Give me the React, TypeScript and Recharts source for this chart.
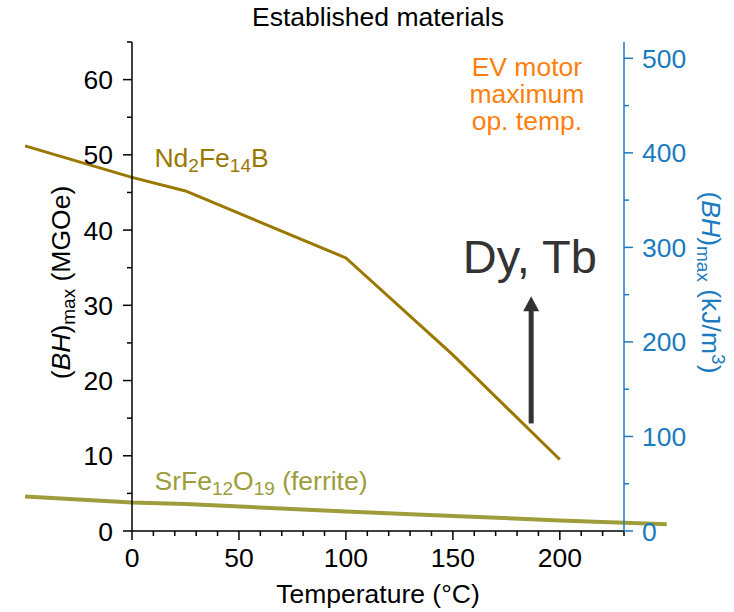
import React from 'react';
import { ComposedChart, Line, XAxis, YAxis, ReferenceLine, ReferenceDot } from 'recharts';

const ndTemps = [-50, 0, 25, 100, 150, 200];
const ndValues = [51.2, 47.0, 45.2, 36.3, 23.4, 9.5];
const ferriteTemps = [-50, 0, 25, 100, 150, 200, 250];
const ferriteValues = [4.6, 3.8, 3.6, 2.6, 2.0, 1.4, 0.9];

const xTicks = [0, 10, 20, 30, 40, 50, 60, 70, 80, 90, 100, 110, 120, 130, 140, 150, 160, 170, 180, 190, 200, 210, 220, 230];
const leftTicks = [0, 5, 10, 15, 20, 25, 30, 35, 40, 45, 50, 55, 60, 65];
const rightTicks = [0, 50, 100, 150, 200, 250, 300, 350, 400, 450, 500];

const MGOE_TO_KJ = 7.9577;
const Y_MAX = 65;
const X_MAX = 230;

const arrowX = 186.6;
const arrowFrom = 14.3;
const arrowTo = 31.2;

const ndData = ndTemps.map((t, i) => ({ t, v: ndValues[i] }));
const ferriteData = ferriteTemps.map((t, i) => ({ t, v: ferriteValues[i] }));

const FONT = '"Liberation Sans", Arial, Helvetica, sans-serif';
const FS = 26.5;
const SUB = 19;
const BLUE = '#1b7bc0';
const ND_COLOR = '#9a7800';
const FERRITE_COLOR = '#9e9d3c';
const ORANGE = '#ff7f0e';
const DARK = '#333333';

const isMajor = (v: number, every: number) => Math.abs(v / every - Math.round(v / every)) < 1e-6;

const LeftTick = (props: any) => {
  const { x, y, payload } = props;
  const major = isMajor(payload.value, 10);
  const len = major ? 9 : 5;
  return (
    <g>
      <line x1={x - len} y1={y} x2={x} y2={y} stroke="#000" strokeWidth={1.5} />
      {major && (
        <text x={x - 19} y={y + 9.5} textAnchor="end" fontSize={FS} fontFamily={FONT} fill="#000">
          {payload.value}
        </text>
      )}
    </g>
  );
};

const RightTick = (props: any) => {
  const { x, y, payload } = props;
  const major = isMajor(payload.value, 100);
  const len = major ? 9 : 5;
  return (
    <g>
      <line x1={x} y1={y} x2={x + len} y2={y} stroke={BLUE} strokeWidth={1.5} />
      {major && (
        <text x={x + 18} y={y + 9.5} textAnchor="start" fontSize={FS} fontFamily={FONT} fill={BLUE}>
          {payload.value}
        </text>
      )}
    </g>
  );
};

const BottomTick = (props: any) => {
  const { x, y, payload } = props;
  const major = isMajor(payload.value, 50);
  const len = major ? 9 : 5;
  return (
    <g>
      <line x1={x} y1={y} x2={x} y2={y + len} stroke="#000" strokeWidth={1.5} />
      {major && (
        <text x={x} y={y + 36} textAnchor="middle" fontSize={FS} fontFamily={FONT} fill="#000">
          {payload.value}
        </text>
      )}
    </g>
  );
};

const XLabel = (props: any) => {
  const vb = props.viewBox || {};
  return (
    <text x={vb.x + vb.width / 2} y={vb.y + 72} textAnchor="middle" fontSize={FS} fontFamily={FONT} fill="#000">
      Temperature (°C)
    </text>
  );
};

const LeftLabel = (props: any) => {
  const vb = props.viewBox || {};
  const cx = 70;
  const cy = vb.y + vb.height / 2 - 4;
  return (
    <text x={cx} y={cy} transform={`rotate(-90 ${cx} ${cy})`} textAnchor="middle" fontSize={FS} fontFamily={FONT} fill="#000">
      <tspan>(</tspan>
      <tspan fontStyle="italic">BH</tspan>
      <tspan>)</tspan>
      <tspan fontSize={SUB} dy={5}>max</tspan>
      <tspan dy={-5}> (MGOe)</tspan>
    </text>
  );
};

const RightLabel = (props: any) => {
  const vb = props.viewBox || {};
  const cx = 702;
  const cy = vb.y + vb.height / 2 - 4;
  return (
    <text x={cx} y={cy} transform={`rotate(90 ${cx} ${cy})`} textAnchor="middle" fontSize={FS} fontFamily={FONT} fill={BLUE}>
      <tspan>(</tspan>
      <tspan fontStyle="italic">BH</tspan>
      <tspan>)</tspan>
      <tspan fontSize={SUB} dy={5}>max</tspan>
      <tspan dy={-5}> (kJ/m</tspan>
      <tspan fontSize={SUB} dy={-10}>3</tspan>
      <tspan dy={10}>)</tspan>
    </text>
  );
};

const ArrowShape = (props: any) => {
  const { x1, y1, x2, y2 } = props;
  const head = 15;
  return (
    <g>
      <line x1={x1} y1={y1} x2={x2} y2={y2 + head - 2} stroke={DARK} strokeWidth={5} />
      <polygon points={`${x2},${y2} ${x2 - 8},${y2 + head} ${x2 + 8},${y2 + head}`} fill={DARK} />
    </g>
  );
};

const TextShape = (lines: string[], color: string, size: number, anchor: string, gap: number, dyOffset = 0) => (props: any) => {
  const { cx, cy } = props;
  return (
    <text x={cx} y={cy + dyOffset} textAnchor={anchor} fontSize={size} fontFamily={FONT} fill={color}>
      {lines.map((l, i) => (
        <tspan key={i} x={cx} dy={i === 0 ? 0 : gap}>
          {l}
        </tspan>
      ))}
    </text>
  );
};

const NdLabel = (props: any) => (
  <text x={props.cx} y={props.cy} fontSize={FS} fontFamily={FONT} fill={ND_COLOR}>
    <tspan>Nd</tspan>
    <tspan fontSize={SUB} dy={5}>2</tspan>
    <tspan dy={-5}>Fe</tspan>
    <tspan fontSize={SUB} dy={5}>14</tspan>
    <tspan dy={-5}>B</tspan>
  </text>
);

const FerriteLabel = (props: any) => (
  <text x={props.cx} y={props.cy} fontSize={FS} fontFamily={FONT} fill={FERRITE_COLOR}>
    <tspan>SrFe</tspan>
    <tspan fontSize={SUB} dy={5}>12</tspan>
    <tspan dy={-5}>O</tspan>
    <tspan fontSize={SUB} dy={5}>19</tspan>
    <tspan dy={-5}> (ferrite)</tspan>
  </text>
);

export default function App() {
  return (
    <div style={{ position: 'absolute', left: 0, top: 0, width: 734, height: 612, background: '#fff' }}>
      <style>{`.recharts-line, .recharts-line * { clip-path: none !important; } .recharts-reference-line, .recharts-reference-line * , .recharts-reference-dot, .recharts-reference-dot * { clip-path: none !important; }`}</style>
      <ComposedChart width={734} height={612} margin={{ top: 42, right: 0, bottom: 0, left: 0 }}>
        <XAxis
          xAxisId="bottom"
          dataKey="t"
          type="number"
          domain={[0, X_MAX]}
          allowDataOverflow
          ticks={xTicks}
          interval={0}
          tickSize={0}
          tickMargin={0}
          tickLine={false}
          tick={<BottomTick />}
          axisLine={{ stroke: '#000', strokeWidth: 1.5 }}
          height={81}
          label={{ content: <XLabel /> }}
        />
        <XAxis
          xAxisId="top"
          orientation="top"
          type="number"
          domain={[0, X_MAX]}
          allowDataOverflow
          tick={false}
          tickLine={false}
          axisLine={{ stroke: '#000', strokeWidth: 1.5 }}
          height={0}
        />
        <YAxis
          yAxisId="left"
          type="number"
          domain={[0, Y_MAX]}
          allowDataOverflow
          ticks={leftTicks}
          interval={0}
          tickSize={0}
          tickMargin={0}
          tickLine={false}
          tick={<LeftTick />}
          axisLine={{ stroke: '#000', strokeWidth: 1.5 }}
          width={132}
          label={{ content: <LeftLabel /> }}
        />
        <YAxis
          yAxisId="right"
          orientation="right"
          type="number"
          domain={[0, Y_MAX * MGOE_TO_KJ]}
          allowDataOverflow
          ticks={rightTicks}
          interval={0}
          tickSize={0}
          tickMargin={0}
          tickLine={false}
          tick={<RightTick />}
          axisLine={{ stroke: BLUE, strokeWidth: 1.5 }}
          width={110}
          label={{ content: <RightLabel /> }}
        />
        <Line
          xAxisId="bottom"
          yAxisId="left"
          data={ferriteData}
          dataKey="v"
          type="linear"
          stroke={FERRITE_COLOR}
          strokeWidth={4}
          dot={false}
          activeDot={false}
          isAnimationActive={false}
        />
        <Line
          xAxisId="bottom"
          yAxisId="left"
          data={ndData}
          dataKey="v"
          type="linear"
          stroke={ND_COLOR}
          strokeWidth={3}
          dot={false}
          activeDot={false}
          isAnimationActive={false}
        />
        <ReferenceLine
          xAxisId="bottom"
          yAxisId="left"
          segment={[{ x: arrowX, y: arrowFrom }, { x: arrowX, y: arrowTo }]}
          ifOverflow="visible"
          shape={<ArrowShape />}
        />
        <ReferenceDot
          xAxisId="bottom"
          yAxisId="left"
          x={X_MAX / 2}
          y={Y_MAX}
          r={0}
          ifOverflow="visible"
          shape={TextShape(['Established materials'], '#000', FS, 'middle', 0, -16)}
        />
        <ReferenceDot xAxisId="bottom" yAxisId="left" x={10.5} y={48.4} r={0} ifOverflow="visible" shape={<NdLabel />} />
        <ReferenceDot xAxisId="bottom" yAxisId="left" x={10.5} y={5.45} r={0} ifOverflow="visible" shape={<FerriteLabel />} />
        <ReferenceDot
          xAxisId="bottom"
          yAxisId="left"
          x={186}
          y={34.3}
          r={0}
          ifOverflow="visible"
          shape={TextShape(['Dy, Tb'], DARK, 47, 'middle', 0)}
        />
        <ReferenceDot
          xAxisId="bottom"
          yAxisId="left"
          x={184.6}
          y={60.5}
          r={0}
          ifOverflow="visible"
          shape={TextShape(['EV motor', 'maximum', 'op. temp.'], ORANGE, FS, 'middle', 27)}
        />
      </ComposedChart>
    </div>
  );
}
